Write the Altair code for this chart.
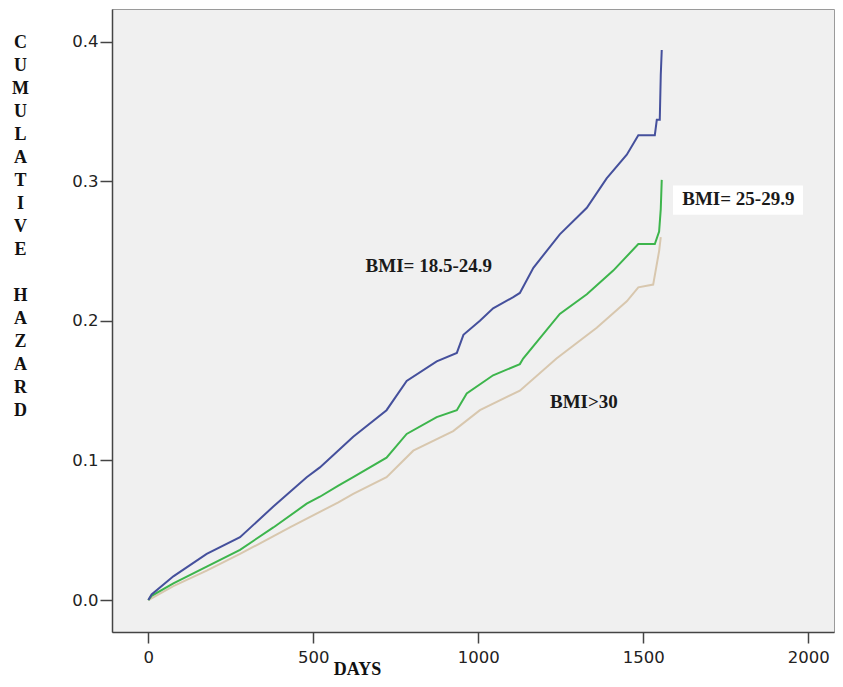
import altair as alt
import pandas as pd

# ---- data ----
blue_days = [0, 10, 76, 177, 278, 379, 480, 520, 571, 621, 722, 783, 874, 935, 955, 1005,
             1045, 1106, 1126, 1167, 1247, 1329, 1389, 1450, 1485, 1535, 1541, 1550, 1553, 1556]
blue_vals = [0.0, 0.004, 0.017, 0.033, 0.045, 0.067, 0.088, 0.095, 0.106, 0.117, 0.136, 0.157,
             0.171, 0.177, 0.19, 0.2, 0.209, 0.217, 0.22, 0.238, 0.262, 0.281, 0.302, 0.319,
             0.333, 0.333, 0.344, 0.344, 0.376, 0.394]

green_days = [0, 10, 76, 177, 278, 379, 480, 520, 576, 621, 722, 783, 874, 935, 965, 1045,
              1126, 1136, 1247, 1329, 1409, 1485, 1535, 1548, 1553, 1556]
green_vals = [0.0, 0.003, 0.012, 0.024, 0.036, 0.052, 0.069, 0.074, 0.082, 0.088, 0.102, 0.119,
              0.131, 0.136, 0.148, 0.161, 0.169, 0.173, 0.205, 0.219, 0.236, 0.255, 0.255,
              0.264, 0.28, 0.301]

beige_days = [0, 76, 177, 278, 429, 576, 621, 722, 803, 924, 1005, 1126, 1237, 1359, 1450,
              1485, 1530, 1548, 1553]
beige_vals = [0.0, 0.010, 0.021, 0.033, 0.052, 0.070, 0.076, 0.088, 0.107, 0.121, 0.136, 0.15,
              0.173, 0.195, 0.214, 0.224, 0.226, 0.25, 0.26]

groups = ["BMI>30", "BMI= 25-29.9", "BMI= 18.5-24.9"]
colors = ["#d8c7ae", "#3db54c", "#45509c"]

x_ticks = [0, 500, 1000, 1500, 2000]
y_ticks = [0.0, 0.1, 0.2, 0.3, 0.4]

label_texts = ["BMI= 18.5-24.9", "BMI= 25-29.9", "BMI>30"]
label_x = [850, 1788, 1320]
label_y = [0.239, 0.287, 0.142]

box_x = [1590]
box_x2 = [1984]
box_y = [0.276]
box_y2 = [0.297]

y_title = ["C", "U", "M", "U", "L", "A", "T", "I", "V", "E", "\u200b",
           "H", "A", "Z", "A", "R", "D"]

# ---- tables ----
rows = []
for g, ds, vs in [(groups[0], beige_days, beige_vals),
                  (groups[1], green_days, green_vals),
                  (groups[2], blue_days, blue_vals)]:
    for i, (d, v) in enumerate(zip(ds, vs)):
        rows.append({"group": g, "days": d, "hazard": v, "idx": i})
df = pd.DataFrame(rows)

labels = pd.DataFrame({"text": label_texts, "days": label_x, "hazard": label_y})
box = pd.DataFrame({"x": box_x, "x2": box_x2, "y": box_y, "y2": box_y2})

x_scale = alt.Scale(domain=[-110, 2078], nice=False, zero=False)
y_scale = alt.Scale(domain=[-0.0229, 0.4234], nice=False, zero=False)

x_axis = alt.Axis(values=x_ticks, format="d", title="DAYS", grid=False,
                  tickSize=11, labelPadding=6,
                  titleFont="Liberation Serif", titleFontWeight="bold", titleFontSize=18,
                  titleColor="#111", titleX=245, titleY=42, titleAlign="center",
                  titleBaseline="alphabetic")
y_axis = alt.Axis(values=y_ticks, format=".1f", title=y_title, grid=False,
                  tickSize=12, labelPadding=2,
                  titleFont="Liberation Serif", titleFontWeight="bold", titleFontSize=18,
                  titleColor="#111", titleAngle=0, titleX=-92, titleY=24,
                  titleAlign="center", titleBaseline="top", titleLineHeight=23)

lines = alt.Chart(df).mark_line(strokeWidth=2, interpolate="linear").encode(
    x=alt.X("days:Q", scale=x_scale, axis=x_axis),
    y=alt.Y("hazard:Q", scale=y_scale, axis=y_axis),
    color=alt.Color("group:N", scale=alt.Scale(domain=groups, range=colors), legend=None),
    order="idx:Q",
)

rect = alt.Chart(box).mark_rect(color="white").encode(
    x=alt.X("x:Q", scale=x_scale), x2="x2:Q",
    y=alt.Y("y:Q", scale=y_scale), y2="y2:Q",
)

text = alt.Chart(labels).mark_text(font="Liberation Serif", fontWeight="bold",
                                   fontSize=19, color="#1a1a1a").encode(
    x=alt.X("days:Q", scale=x_scale),
    y=alt.Y("hazard:Q", scale=y_scale),
    text="text:N",
)

chart = alt.layer(lines, rect, text).properties(
    width=722, height=623,
    autosize=alt.AutoSizeParams(type="none"),
    padding={"left": 104, "top": 1, "right": 1, "bottom": 47},
).configure_view(
    fill="#f0f0f0", stroke="#9a9a9a", strokeWidth=1,
).configure_axis(
    domainColor="#444", domainWidth=1.5, tickColor="#444", tickWidth=1.5,
    labelFont="DejaVu Sans", labelFontSize=16.5, labelColor="#222",
)

chart.save("out.html", embed_options={"renderer": "svg", "actions": False})
